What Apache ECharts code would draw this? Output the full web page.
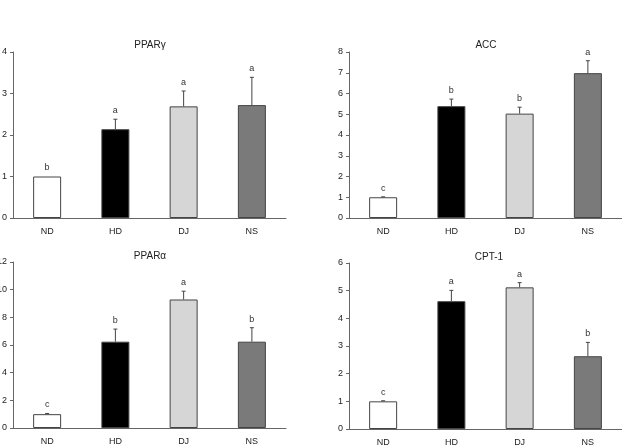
<!DOCTYPE html>
<html>
<head>
<meta charset="utf-8">
<style>
    html, body { margin: 0; padding: 0; background: #fff; }
    #main { width: 622px; height: 445px; }
</style>
</head>
<body>
<div id="main"></div>
<script src="https://cdn.jsdelivr.net/npm/echarts@6/dist/echarts.min.js"></script>
<script>
    // groups
    var categories = ['ND', 'HD', 'DJ', 'NS'];
    var barColors = ['#ffffff', '#000000', '#d6d6d6', '#7a7a7a'];

    // PPARγ
    var ppargMean = [1.0, 2.14, 2.69, 2.72];
    var ppargErr = [0, 0.24, 0.37, 0.67];
    var ppargSig = ['b', 'a', 'a', 'a'];
    // ACC
    var accMean = [1.0, 5.39, 5.03, 6.98];
    var accErr = [0.02, 0.34, 0.31, 0.6];
    var accSig = ['c', 'b', 'b', 'a'];
    // PPARα
    var pparaMean = [1.0, 6.24, 9.29, 6.24];
    var pparaErr = [0.05, 0.91, 0.6, 1.01];
    var pparaSig = ['c', 'b', 'a', 'b'];
    // CPT-1
    var cptMean = [1.0, 4.62, 5.12, 2.63];
    var cptErr = [0.02, 0.39, 0.17, 0.5];
    var cptSig = ['c', 'a', 'a', 'b'];

    var panels = [
        {name: 'PPARγ', mean: ppargMean, err: ppargErr, sig: ppargSig, max: 4, step: 1, left: 13, top: 52, tx: 145, ty: 35},
        {name: 'ACC', mean: accMean, err: accErr, sig: accSig, max: 8, step: 1, left: 349, top: 52, tx: 481, ty: 35},
        {name: 'PPARα', mean: pparaMean, err: pparaErr, sig: pparaSig, max: 12, step: 2, left: 13, top: 262, tx: 145, ty: 246},
        {name: 'CPT-1', mean: cptMean, err: cptErr, sig: cptSig, max: 6, step: 1, left: 349, top: 263, tx: 484, ty: 247}
    ];

    var font = 'Liberation Sans, Arial, sans-serif';
    var option = {
        backgroundColor: '#fff',
        animation: false,
        title: [],
        grid: [],
        xAxis: [],
        yAxis: [],
        series: []
    };

    panels.forEach(function (p, i) {
        option.title.push({
            text: p.name,
            left: p.tx,
            top: p.ty,
            textAlign: 'center',
            textStyle: {fontFamily: font, fontSize: 10, fontWeight: 'normal', color: '#222'}
        });
        option.grid.push({left: p.left, top: p.top, width: 273, height: 166, containLabel: false, outerBoundsMode: 'none'});
        option.xAxis.push({
            type: 'category',
            gridIndex: i,
            data: categories,
            axisLine: {lineStyle: {color: '#666', width: 1}},
            axisTick: {show: false},
            axisLabel: {fontFamily: font, fontSize: 9, color: '#222', margin: 9}
        });
        option.yAxis.push({
            type: 'value',
            gridIndex: i,
            min: 0,
            max: p.max,
            interval: p.step,
            axisLine: {show: true, lineStyle: {color: '#666', width: 1}},
            axisTick: {show: true, length: 3, lineStyle: {color: '#666'}},
            splitLine: {show: false},
            axisLabel: {fontFamily: font, fontSize: 9, color: '#222', margin: 6}
        });
        option.series.push({
            type: 'bar',
            xAxisIndex: i,
            yAxisIndex: i,
            barWidth: 28,
            data: p.mean.map(function (v, k) {
                return {value: v, itemStyle: {color: barColors[k], borderColor: '#444', borderWidth: 1}};
            })
        });
        option.series.push({
            type: 'custom',
            xAxisIndex: i,
            yAxisIndex: i,
            z: 5,
            data: p.mean.map(function (v, k) { return [k, v, p.err[k]]; }),
            renderItem: function (params, api) {
                var k = api.value(0), m = api.value(1), e = api.value(2);
                var base = api.coord([k, m]);
                var top = api.coord([k, m + e]);
                var style = {stroke: '#444', lineWidth: 1};
                var children = [];
                if (e > 0) {
                    children.push({type: 'line', shape: {x1: base[0], y1: base[1], x2: top[0], y2: top[1]}, style: style});
                    children.push({type: 'line', shape: {x1: top[0] - 2, y1: top[1], x2: top[0] + 2, y2: top[1]}, style: style});
                }
                children.push({
                    type: 'text',
                    x: top[0],
                    y: top[1] - 4,
                    style: {text: p.sig[k], fontFamily: font, fontSize: 9, fill: '#333', align: 'center', verticalAlign: 'bottom'}
                });
                return {type: 'group', children: children};
            }
        });
    });

    var chart = echarts.init(document.getElementById('main'));
    chart.setOption(option);
</script>
</body>
</html>
